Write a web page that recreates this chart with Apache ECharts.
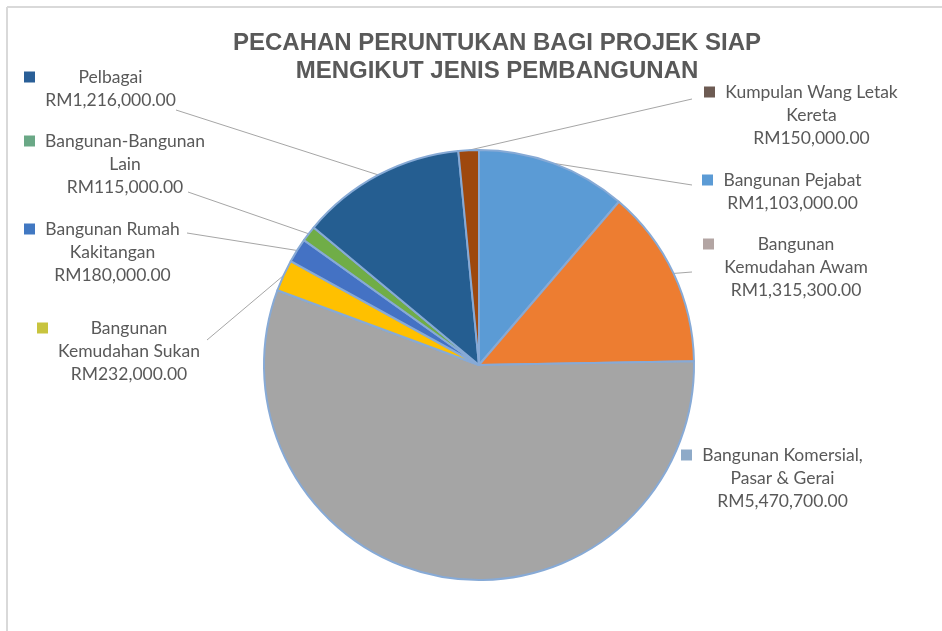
<!DOCTYPE html>
<html>
<head>
<meta charset="utf-8">
<script src="https://cdn.jsdelivr.net/npm/echarts@6/dist/echarts.min.js"></script>
<style>
  html, body { margin: 0; padding: 0; background: #ffffff; }
  #chart { width: 942px; height: 631px; }
</style>
</head>
<body>
<div id="chart"></div>
<script>
// ---- Data ----
const categories = [
  'Bangunan Pejabat',
  'Bangunan Kemudahan Awam',
  'Bangunan Komersial, Pasar & Gerai',
  'Bangunan Kemudahan Sukan',
  'Bangunan Rumah Kakitangan',
  'Bangunan-Bangunan Lain',
  'Pelbagai',
  'Kumpulan Wang Letak Kereta'
];
const values = [1103000, 1315300, 5470700, 232000, 180000, 115000, 1216000, 150000];
const labelLines = [
  ['Bangunan Pejabat'],
  ['Bangunan', 'Kemudahan Awam'],
  ['Bangunan Komersial,', 'Pasar & Gerai'],
  ['Bangunan', 'Kemudahan Sukan'],
  ['Bangunan Rumah', 'Kakitangan'],
  ['Bangunan-Bangunan', 'Lain'],
  ['Pelbagai'],
  ['Kumpulan Wang Letak', 'Kereta']
];
const titleLines = ['PECAHAN PERUNTUKAN BAGI PROJEK SIAP', 'MENGIKUT JENIS PEMBANGUNAN'];

// ---- Styles / layout ----
const sliceColors = ['#5B9BD5', '#ED7D31', '#A5A5A5', '#FFC000', '#4472C4', '#70AD47', '#255E91', '#9E480E'];
const keyColors = ['#5b9bd5', '#b3a5a3', '#8eaac8', '#c8c43e', '#4178c2', '#6aa886', '#2a5f97', '#6d5b53'];
// label anchor: [marker left x, first line centre y]
const labelPos = [[702, 180], [703, 244], [681, 455], [37, 328], [24, 229], [24, 141], [24, 77], [704, 92]];
// where each leader line touches its label
const lineEnds = [[692, 185], [692, 272], null, [207, 340], [187, 233], [188, 192], [176, 110], [692, 99]];

const FONT_SIZE = 17.5, LINE_H = 23, FONT_FAMILY = 'Lato';
const TEXT_COLOR = '#595959';

function fmt(v) {
  return 'RM' + String(v).replace(/\B(?=(\d{3})+(?!\d))/g, ',') + '.00';
}

const measureCtx = document.createElement('canvas').getContext('2d');
measureCtx.font = FONT_SIZE + 'px ' + FONT_FAMILY;
function textW(s) { return measureCtx.measureText(s).width; }

const rich = {
  g: { width: 10, align: 'left', height: LINE_H },
  sp: { width: 21, align: 'left', height: LINE_H }
};
keyColors.forEach((c, i) => {
  rich['m' + i] = { width: 11, height: 11, backgroundColor: c, align: 'left', verticalAlign: 'middle' };
});
const blockW = labelLines.map((lines, i) => Math.ceil(Math.max(...lines.concat([fmt(values[i])]).map(textW))));
blockW.forEach((w, i) => {
  rich['t' + i] = {
    width: w, align: 'center', fontSize: FONT_SIZE, fontFamily: FONT_FAMILY,
    lineHeight: LINE_H, color: TEXT_COLOR
  };
});

function labelText(i) {
  const lines = labelLines[i].concat([fmt(values[i])]);
  return lines.map((ln, k) => (k === 0 ? '{m' + i + '|}{g|}' : '{sp|}') + '{t' + i + '|' + ln + '}').join('\n');
}

const data = categories.map((name, i) => {
  const item = { name, value: values[i], itemStyle: { color: sliceColors[i] } };
  if (!lineEnds[i]) item.labelLine = { show: false };
  return item;
});

const chart = echarts.init(document.getElementById('chart'), null, { renderer: 'canvas' });
chart.setOption({
  backgroundColor: '#ffffff',
  animation: false,
  graphic: [
    { type: 'line', shape: { x1: 7, y1: 7, x2: 942, y2: 7 }, style: { stroke: '#d9d9d9', lineWidth: 2 }, silent: true },
    { type: 'line', shape: { x1: 7, y1: 7, x2: 7, y2: 631 }, style: { stroke: '#d9d9d9', lineWidth: 2 }, silent: true },
    {
      type: 'text', x: 497, y: 29, silent: true,
      style: {
        text: titleLines.join('\n'), fill: '#595959',
        font: 'bold 24px "Liberation Sans", Arial, sans-serif',
        align: 'center', verticalAlign: 'top', lineHeight: 28
      }
    }
  ],
  series: [{
    type: 'pie',
    center: [479, 365],
    radius: 215,
    startAngle: 90,
    clockwise: true,
    avoidLabelOverlap: false,
    emphasis: { disabled: true },
    itemStyle: { borderColor: '#87aad6', borderWidth: 2 },
    label: {
      show: true,
      position: 'outside',
      formatter: (p) => labelText(p.dataIndex),
      rich: rich,
      align: 'left',
      fontSize: FONT_SIZE,
      fontFamily: FONT_FAMILY,
      lineHeight: LINE_H,
      color: TEXT_COLOR
    },
    labelLine: { show: true, length: 10, length2: 10, lineStyle: { color: '#a6a6a6', width: 1 } },
    labelLayout: function (params) {
      const i = params.dataIndex;
      const pos = labelPos[i];
      const res = { x: pos[0], y: pos[1] - LINE_H / 2, align: 'left', verticalAlign: 'top' };
      const p0 = params.labelLinePoints && params.labelLinePoints[0];
      if (lineEnds[i] && p0) {
        res.labelLinePoints = [p0, lineEnds[i], lineEnds[i]];
      }
      return res;
    },
    data: data
  }]
});
</script>
</body>
</html>
